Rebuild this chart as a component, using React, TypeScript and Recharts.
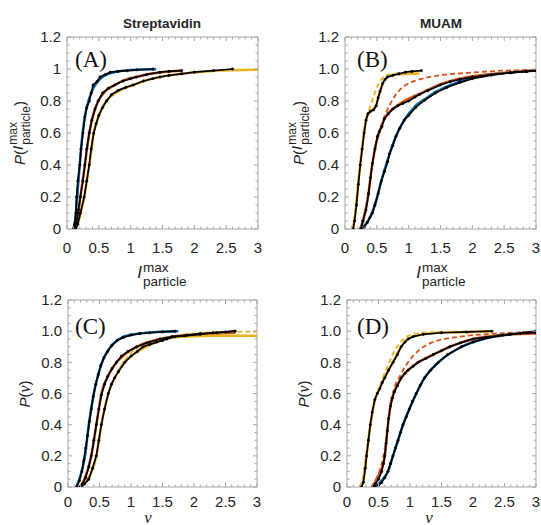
import React from 'react'
import { LineChart, Line, XAxis, YAxis, ReferenceLine } from 'recharts'

type Pt = [number, number]

const BLUE = '#0072BD'
const RED = '#D95319'
const YEL = '#EDB120'

// ticks every 0.1 on x and 0.05 on y; labels only on the major ones
const xTicks = [0, 0.1, 0.2, 0.3, 0.4, 0.5, 0.6, 0.7, 0.8, 0.9, 1, 1.1, 1.2, 1.3, 1.4, 1.5, 1.6, 1.7, 1.8, 1.9, 2, 2.1, 2.2, 2.3, 2.4, 2.5, 2.6, 2.7, 2.8, 2.9, 3]
const yTicks = [0, 0.05, 0.1, 0.15, 0.2, 0.25, 0.3, 0.35, 0.4, 0.45, 0.5, 0.55, 0.6, 0.65, 0.7, 0.75, 0.8, 0.85, 0.9, 0.95, 1, 1.05, 1.1, 1.15, 1.2]

// (A) Streptavidin, I max
const aBlueFit: Pt[] = [[0.1, 0], [0.13, 0.06], [0.16, 0.2], [0.2, 0.4], [0.24, 0.58], [0.28, 0.7], [0.33, 0.79], [0.39, 0.86], [0.46, 0.91], [0.54, 0.945], [0.65, 0.97], [0.8, 0.985], [1.0, 0.993], [1.2, 0.997], [1.4, 0.998]]
const aBlueEmp: Pt[] = [[0.1, 0], [0.12, 0.03], [0.14, 0.1], [0.15, 0.2], [0.17, 0.3], [0.2, 0.4], [0.22, 0.5], [0.25, 0.6], [0.28, 0.7], [0.31, 0.76], [0.35, 0.8], [0.38, 0.85], [0.41, 0.9], [0.47, 0.92], [0.52, 0.95], [0.6, 0.965], [0.68, 0.98], [0.8, 0.985], [0.95, 0.99], [1.1, 0.995], [1.35, 1.0]]
const aRedFit: Pt[] = [[0.12, 0], [0.16, 0.06], [0.21, 0.2], [0.28, 0.4], [0.35, 0.6], [0.41, 0.71], [0.49, 0.8], [0.6, 0.86], [0.75, 0.9], [0.9, 0.93], [1.09, 0.95], [1.3, 0.97], [1.5, 0.98], [1.8, 0.99]]
const aRedEmp: Pt[] = [[0.12, 0], [0.15, 0.04], [0.18, 0.12], [0.21, 0.2], [0.25, 0.3], [0.28, 0.4], [0.31, 0.5], [0.35, 0.6], [0.39, 0.68], [0.44, 0.75], [0.49, 0.8], [0.56, 0.85], [0.65, 0.88], [0.75, 0.9], [0.88, 0.925], [1.0, 0.94], [1.09, 0.95], [1.25, 0.965], [1.46, 0.98], [1.6, 0.985], [1.8, 0.99]]
const aYelFit: Pt[] = [[0.13, 0], [0.18, 0.05], [0.27, 0.2], [0.35, 0.4], [0.42, 0.6], [0.49, 0.7], [0.62, 0.8], [0.8, 0.86], [1.04, 0.9], [1.25, 0.93], [1.46, 0.95], [1.7, 0.965], [2.0, 0.978], [2.4, 0.99], [3, 0.995]]
const aYelEmp: Pt[] = [[0.14, 0], [0.17, 0.03], [0.21, 0.1], [0.27, 0.2], [0.31, 0.3], [0.35, 0.4], [0.38, 0.5], [0.42, 0.6], [0.46, 0.66], [0.5, 0.71], [0.56, 0.76], [0.62, 0.8], [0.7, 0.84], [0.8, 0.865], [0.92, 0.885], [1.04, 0.9], [1.2, 0.925], [1.35, 0.94], [1.46, 0.95], [1.6, 0.96], [1.8, 0.97], [2.0, 0.98], [2.3, 0.99], [2.6, 1.0]]

// (B) MUAM, I max
const bYelFit: Pt[] = [[0.12, 0], [0.15, 0.06], [0.18, 0.16], [0.21, 0.29], [0.24, 0.41], [0.27, 0.51], [0.3, 0.61], [0.33, 0.68], [0.37, 0.725], [0.43, 0.745], [0.49, 0.775], [0.53, 0.83], [0.57, 0.88], [0.62, 0.93], [0.67, 0.955], [0.8, 0.965], [1.0, 0.97], [1.17, 0.972]]
const bYelDash: Pt[] = [[0.1, 0], [0.15, 0.08], [0.2, 0.28], [0.25, 0.45], [0.3, 0.6], [0.35, 0.7], [0.4, 0.77], [0.46, 0.84], [0.52, 0.9], [0.58, 0.94], [0.65, 0.96], [0.75, 0.97], [0.9, 0.975], [1.1, 0.978]]
const bYelEmp: Pt[] = [[0.13, 0], [0.15, 0.05], [0.18, 0.15], [0.21, 0.28], [0.24, 0.4], [0.27, 0.5], [0.3, 0.6], [0.33, 0.68], [0.36, 0.72], [0.4, 0.735], [0.45, 0.745], [0.49, 0.77], [0.52, 0.82], [0.55, 0.86], [0.59, 0.91], [0.63, 0.935], [0.67, 0.95], [0.75, 0.96], [0.85, 0.97], [0.95, 0.98], [1.05, 0.985], [1.2, 0.99]]
const bRedFit: Pt[] = [[0.24, 0], [0.3, 0.08], [0.36, 0.2], [0.42, 0.38], [0.48, 0.52], [0.55, 0.62], [0.62, 0.69], [0.72, 0.74], [0.85, 0.78], [1.0, 0.815], [1.17, 0.845], [1.3, 0.87], [1.5, 0.905], [1.7, 0.93], [2.0, 0.955], [2.5, 0.975], [3, 0.99]]
const bRedDash: Pt[] = [[0.24, 0], [0.3, 0.06], [0.36, 0.2], [0.42, 0.38], [0.5, 0.55], [0.58, 0.66], [0.66, 0.74], [0.75, 0.81], [0.86, 0.87], [1.0, 0.91], [1.17, 0.935], [1.48, 0.96], [1.9, 0.975], [2.4, 0.988], [3, 0.995]]
const bRedEmp: Pt[] = [[0.25, 0], [0.28, 0.05], [0.33, 0.12], [0.37, 0.22], [0.4, 0.32], [0.43, 0.41], [0.47, 0.5], [0.51, 0.58], [0.54, 0.61], [0.58, 0.64], [0.62, 0.69], [0.68, 0.72], [0.75, 0.75], [0.83, 0.77], [0.91, 0.785], [1.0, 0.8], [1.1, 0.825], [1.17, 0.84], [1.3, 0.865], [1.5, 0.9], [1.65, 0.92], [1.8, 0.935], [2.0, 0.95], [2.3, 0.965], [2.6, 0.977], [2.85, 0.985], [3, 0.99]]
const bBlueFit: Pt[] = [[0.24, 0], [0.32, 0.03], [0.39, 0.07], [0.47, 0.15], [0.57, 0.3], [0.7, 0.47], [0.8, 0.58], [0.93, 0.68], [1.11, 0.77], [1.25, 0.81], [1.42, 0.855], [1.6, 0.89], [1.8, 0.92], [2.0, 0.945], [2.3, 0.965], [2.6, 0.978], [3, 0.99]]
const bBlueEmp: Pt[] = [[0.25, 0], [0.3, 0.01], [0.35, 0.04], [0.39, 0.07], [0.43, 0.1], [0.47, 0.15], [0.52, 0.22], [0.57, 0.3], [0.62, 0.36], [0.67, 0.42], [0.7, 0.47], [0.75, 0.52], [0.8, 0.58], [0.86, 0.63], [0.93, 0.68], [1.0, 0.71], [1.11, 0.76], [1.25, 0.805], [1.42, 0.85], [1.6, 0.885], [1.8, 0.915], [2.0, 0.94], [2.3, 0.962], [2.6, 0.977], [2.85, 0.985], [3, 0.99]]

// (C) Streptavidin, v
const cBlueFit: Pt[] = [[0.13, 0], [0.18, 0.05], [0.27, 0.2], [0.33, 0.4], [0.41, 0.6], [0.5, 0.75], [0.56, 0.82], [0.64, 0.88], [0.72, 0.92], [0.88, 0.965], [1.14, 0.985], [1.4, 0.995], [1.75, 1.0]]
const cBlueEmp: Pt[] = [[0.14, 0], [0.18, 0.04], [0.22, 0.1], [0.25, 0.17], [0.28, 0.25], [0.31, 0.33], [0.34, 0.42], [0.37, 0.5], [0.4, 0.58], [0.44, 0.66], [0.48, 0.72], [0.52, 0.78], [0.57, 0.83], [0.63, 0.87], [0.7, 0.91], [0.78, 0.94], [0.88, 0.96], [1.0, 0.975], [1.14, 0.985], [1.3, 0.99], [1.5, 0.995], [1.7, 1.0]]
const cRedFit: Pt[] = [[0.19, 0], [0.26, 0.05], [0.37, 0.2], [0.45, 0.4], [0.53, 0.6], [0.62, 0.7], [0.77, 0.8], [0.9, 0.85], [1.09, 0.9], [1.46, 0.95], [1.89, 0.975], [2.3, 0.985], [2.65, 0.99]]
const cRedEmp: Pt[] = [[0.19, 0], [0.23, 0.02], [0.28, 0.06], [0.33, 0.13], [0.37, 0.2], [0.41, 0.3], [0.45, 0.4], [0.49, 0.5], [0.53, 0.59], [0.58, 0.66], [0.63, 0.71], [0.7, 0.76], [0.77, 0.8], [0.85, 0.84], [0.95, 0.87], [1.09, 0.9], [1.25, 0.925], [1.46, 0.95], [1.65, 0.965], [1.89, 0.975], [2.1, 0.985], [2.36, 0.99], [2.65, 1.0]]
const cYelFit: Pt[] = [[0.21, 0], [0.3, 0.04], [0.45, 0.2], [0.53, 0.4], [0.64, 0.6], [0.74, 0.7], [0.9, 0.8], [1.04, 0.85], [1.19, 0.89], [1.4, 0.93], [1.6, 0.955], [1.9, 0.965], [2.3, 0.97], [3, 0.97]]
const cYelDash: Pt[] = [[0.21, 0], [0.3, 0.04], [0.45, 0.2], [0.53, 0.4], [0.64, 0.6], [0.74, 0.7], [0.88, 0.8], [1.0, 0.86], [1.19, 0.91], [1.41, 0.945], [1.7, 0.97], [2.0, 0.985], [2.4, 0.995], [3, 0.998]]
const cYelEmp: Pt[] = [[0.21, 0], [0.26, 0.02], [0.33, 0.05], [0.39, 0.12], [0.45, 0.2], [0.49, 0.3], [0.53, 0.4], [0.58, 0.5], [0.64, 0.6], [0.69, 0.66], [0.74, 0.7], [0.8, 0.74], [0.9, 0.8], [1.0, 0.84], [1.1, 0.87], [1.19, 0.9], [1.3, 0.915], [1.41, 0.93], [1.5, 0.94], [1.57, 0.95], [1.7, 0.965], [1.85, 0.97], [2.1, 0.98], [2.3, 0.99], [2.5, 0.995], [2.65, 1.0]]

// (D) MUAM, v
const dYelFit: Pt[] = [[0.23, 0], [0.26, 0.04], [0.3, 0.16], [0.34, 0.3], [0.38, 0.42], [0.44, 0.55], [0.5, 0.62], [0.58, 0.69], [0.66, 0.75], [0.73, 0.8], [0.86, 0.9], [0.97, 0.95], [1.21, 0.98], [1.5, 0.99], [2.0, 0.995], [2.3, 1.0]]
const dYelDash: Pt[] = [[0.2, 0], [0.25, 0.06], [0.3, 0.2], [0.37, 0.4], [0.45, 0.56], [0.55, 0.68], [0.65, 0.78], [0.75, 0.87], [0.85, 0.93], [0.97, 0.97], [1.2, 0.99], [1.5, 0.995], [2.3, 1.0]]
const dYelEmp: Pt[] = [[0.23, 0], [0.26, 0.03], [0.29, 0.12], [0.31, 0.2], [0.34, 0.3], [0.37, 0.4], [0.4, 0.48], [0.44, 0.56], [0.48, 0.6], [0.52, 0.63], [0.56, 0.67], [0.6, 0.7], [0.66, 0.75], [0.73, 0.8], [0.8, 0.85], [0.86, 0.9], [0.92, 0.93], [0.97, 0.95], [1.05, 0.965], [1.21, 0.98], [1.5, 0.99], [1.9, 0.995], [2.3, 1.0]]
const dRedFit: Pt[] = [[0.4, 0], [0.47, 0.05], [0.55, 0.12], [0.6, 0.2], [0.65, 0.4], [0.7, 0.55], [0.74, 0.6], [0.86, 0.7], [0.97, 0.75], [1.13, 0.8], [1.37, 0.85], [1.63, 0.9], [2.0, 0.95], [2.48, 0.975], [3, 0.985]]
const dRedDash: Pt[] = [[0.38, 0], [0.46, 0.05], [0.53, 0.12], [0.58, 0.2], [0.65, 0.4], [0.73, 0.6], [0.85, 0.72], [0.97, 0.8], [1.15, 0.88], [1.4, 0.935], [1.8, 0.965], [2.3, 0.983], [3, 0.995]]
const dRedEmp: Pt[] = [[0.41, 0], [0.45, 0.02], [0.5, 0.05], [0.55, 0.1], [0.58, 0.15], [0.6, 0.2], [0.62, 0.28], [0.64, 0.36], [0.66, 0.44], [0.69, 0.52], [0.72, 0.57], [0.75, 0.61], [0.8, 0.65], [0.86, 0.7], [0.92, 0.73], [0.97, 0.75], [1.05, 0.775], [1.13, 0.8], [1.25, 0.825], [1.37, 0.85], [1.5, 0.875], [1.63, 0.9], [1.8, 0.925], [2.0, 0.95], [2.2, 0.96], [2.48, 0.975], [2.75, 0.985], [3, 0.99]]
const dBlueFit: Pt[] = [[0.44, 0], [0.57, 0.05], [0.65, 0.1], [0.73, 0.2], [0.81, 0.3], [0.89, 0.4], [0.99, 0.5], [1.1, 0.6], [1.23, 0.7], [1.45, 0.8], [1.82, 0.9], [2.16, 0.95], [2.59, 0.98], [3, 0.995]]
const dBlueEmp: Pt[] = [[0.44, 0], [0.5, 0.01], [0.55, 0.03], [0.6, 0.06], [0.65, 0.1], [0.69, 0.15], [0.73, 0.2], [0.77, 0.25], [0.81, 0.3], [0.85, 0.35], [0.89, 0.4], [0.94, 0.45], [0.99, 0.5], [1.04, 0.55], [1.1, 0.6], [1.16, 0.65], [1.23, 0.7], [1.33, 0.75], [1.45, 0.8], [1.6, 0.85], [1.82, 0.9], [2.0, 0.93], [2.16, 0.95], [2.4, 0.97], [2.59, 0.98], [2.8, 0.99], [3, 1.0]]

const FONT = 'Arial, "Liberation Sans", Helvetica, sans-serif'
const SERIF = '"Times New Roman", "Liberation Serif", serif'
const AXIS = '#a6a6a6'
const TXT = '#262626'

type Curve = { fit: Pt[]; dash?: Pt[]; emp: Pt[]; color: string }

const rows = (pts: Pt[]) => pts.map(([x, y]) => ({ x, y }))

const XS = 4
const YS = 3, YM = 3

function Panel({ left, top, w, h, curves, yFmt, xm }: { left: number; top: number; w: number; h: number; curves: Curve[]; yFmt: (v: number) => string; xm: number }) {
  const YW = 40
  const MT = 10

  // draws inward tick marks on bottom+top, label only on majors
  const XTick = (p: any) => {
    const v = p.payload.value
    const major = Math.abs(v * 2 - Math.round(v * 2)) < 1e-6
    const ay = p.y - XS - xm
    const len = major ? 4 : 2.5
    return (
      <g>
        <line x1={p.x} x2={p.x} y1={ay} y2={ay - len} stroke={AXIS} />
        <line x1={p.x} x2={p.x} y1={ay - h} y2={ay - h + len} stroke={AXIS} />
        {major && <text x={p.x} y={p.y} dy="0.71em" textAnchor="middle" fill={TXT} fontSize={15} fontFamily={FONT}>{String(v)}</text>}
      </g>
    )
  }
  const YTick = (p: any) => {
    const v = p.payload.value
    const major = Math.abs(v * 5 - Math.round(v * 5)) < 1e-6
    const ax = p.x + YS + YM
    const len = major ? 4 : 2.5
    return (
      <g>
        <line x1={ax} x2={ax + len} y1={p.y} y2={p.y} stroke={AXIS} />
        <line x1={ax + w} x2={ax + w - len} y1={p.y} y2={p.y} stroke={AXIS} />
        {major && <text x={p.x} y={p.y} dy="0.355em" textAnchor="end" fill={TXT} fontSize={15} fontFamily={FONT}>{yFmt(v)}</text>}
      </g>
    )
  }

  return (
    <div style={{ position: 'absolute', left: left - YW, top: top - MT }}>
      <LineChart width={w + YW + 6} height={h + MT + 32} margin={{ top: MT, right: 6, bottom: 0, left: 0 }}>
        <XAxis type="number" dataKey="x" domain={[0, 3]} ticks={xTicks} interval={0} allowDataOverflow
          tickLine={false} axisLine={{ stroke: AXIS }} tickSize={XS} tickMargin={xm} height={32} tick={XTick} />
        <YAxis type="number" domain={[0, 1.2]} ticks={yTicks} interval={0} allowDataOverflow width={YW}
          tickLine={false} axisLine={{ stroke: AXIS }} tickSize={YS} tickMargin={YM} tick={YTick} />
        <ReferenceLine y={1.2} stroke={AXIS} />
        <ReferenceLine x={3} stroke={AXIS} />
        {curves.map((c, i) => (
          <Line key={'f' + i} data={rows(c.fit)} dataKey="y" type="monotone" stroke={c.color} strokeWidth={2.5} dot={false} isAnimationActive={false} />
        ))}
        {curves.map((c, i) => (
          <Line key={'d' + i} data={rows(c.dash ?? c.fit)} dataKey="y" type="monotone" stroke={c.color} strokeWidth={1.8} strokeDasharray="5 3" dot={false} isAnimationActive={false} />
        ))}
        {curves.map((c, i) => (
          <Line key={'e' + i} data={rows(c.emp)} dataKey="y" type="linear" stroke="#000" strokeWidth={1.7}
            dot={{ r: 1.2, fill: '#000', stroke: '#000', strokeWidth: 0.5 }} isAnimationActive={false} />
        ))}
      </LineChart>
    </div>
  )
}

function Imax({ big, small, lift }: { big: number; small: number; lift: number }) {
  return (
    <span style={{ display: 'inline-flex', alignItems: 'center', whiteSpace: 'nowrap' }}>
      <i style={{ fontSize: big, lineHeight: 1, position: 'relative', top: -lift }}>I</i>
      <span style={{ display: 'inline-flex', flexDirection: 'column', fontSize: small, lineHeight: 1.05, marginLeft: 1 }}>
        <span>max</span>
        <span>particle</span>
      </span>
    </span>
  )
}

const at = (x: number, y: number, extra: React.CSSProperties = {}): React.CSSProperties => ({
  position: 'absolute', left: x, top: y, transform: 'translate(-50%, -50%)', color: TXT, fontFamily: FONT, whiteSpace: 'nowrap', ...extra,
})

const fmtA = (v: number) => String(v)
const fmtB = (v: number) => (v === 0 ? '0' : v.toFixed(1))

const letter = (x: number, y: number): React.CSSProperties => ({
  position: 'absolute', left: x, top: y, fontFamily: SERIF, fontSize: 23, lineHeight: '23px', color: '#111',
})

export default function App() {
  return (
    <div style={{ position: 'absolute', left: 0, top: 0, width: 541, height: 525, overflow: 'hidden', background: '#fff' }}>
      <Panel left={67} top={37} w={191} h={192} xm={9} yFmt={fmtA} curves={[
        { fit: aBlueFit, emp: aBlueEmp, color: BLUE },
        { fit: aRedFit, emp: aRedEmp, color: RED },
        { fit: aYelFit, emp: aYelEmp, color: YEL },
      ]} />
      <Panel left={345} top={37} w={191} h={192} xm={9} yFmt={fmtB} curves={[
        { fit: bBlueFit, emp: bBlueEmp, color: BLUE },
        { fit: bRedFit, dash: bRedDash, emp: bRedEmp, color: RED },
        { fit: bYelFit, dash: bYelDash, emp: bYelEmp, color: YEL },
      ]} />
      <Panel left={68} top={300} w={189} h={187} xm={5} yFmt={fmtB} curves={[
        { fit: cBlueFit, emp: cBlueEmp, color: BLUE },
        { fit: cRedFit, emp: cRedEmp, color: RED },
        { fit: cYelFit, dash: cYelDash, emp: cYelEmp, color: YEL },
      ]} />
      <Panel left={347} top={300} w={189} h={187} xm={5} yFmt={fmtB} curves={[
        { fit: dBlueFit, emp: dBlueEmp, color: BLUE },
        { fit: dRedFit, dash: dRedDash, emp: dRedEmp, color: RED },
        { fit: dYelFit, dash: dYelDash, emp: dYelEmp, color: YEL },
      ]} />

      <div style={at(162, 23, { fontWeight: 'bold', fontSize: 13.5 })}>Streptavidin</div>
      <div style={at(441, 23, { fontWeight: 'bold', fontSize: 13.5 })}>MUAM</div>

      <div style={letter(75, 48)}>(A)</div>
      <div style={letter(357, 48)}>(B)</div>
      <div style={letter(75, 315)}>(C)</div>
      <div style={letter(357, 315)}>(D)</div>

      <div style={at(162, 275)}><Imax big={17} small={13.5} lift={3} /></div>
      <div style={at(441, 275)}><Imax big={17} small={13.5} lift={3} /></div>

      <div style={at(20, 133, { transform: 'translate(-50%, -50%) rotate(-90deg)', fontSize: 15 })}>
        <span style={{ display: 'inline-flex', alignItems: 'center' }}>
          <i>P</i>(<Imax big={15} small={12} lift={2} />)
        </span>
      </div>
      <div style={at(299, 133, { transform: 'translate(-50%, -50%) rotate(-90deg)', fontSize: 15 })}>
        <span style={{ display: 'inline-flex', alignItems: 'center' }}>
          <i>P</i>(<Imax big={15} small={12} lift={2} />)
        </span>
      </div>
      <div style={at(25, 394, { transform: 'translate(-50%, -50%) rotate(-90deg)', fontSize: 15 })}>
        <i>P</i>(<i style={{ fontFamily: SERIF, fontSize: 16 }}>v</i>)
      </div>
      <div style={at(304, 394, { transform: 'translate(-50%, -50%) rotate(-90deg)', fontSize: 15 })}>
        <i>P</i>(<i style={{ fontFamily: SERIF, fontSize: 16 }}>v</i>)
      </div>

      <div style={at(148, 517, { fontFamily: SERIF, fontStyle: 'italic', fontSize: 17, lineHeight: '17px' })}>v</div>
      <div style={at(429, 517, { fontFamily: SERIF, fontStyle: 'italic', fontSize: 17, lineHeight: '17px' })}>v</div>
    </div>
  )
}
